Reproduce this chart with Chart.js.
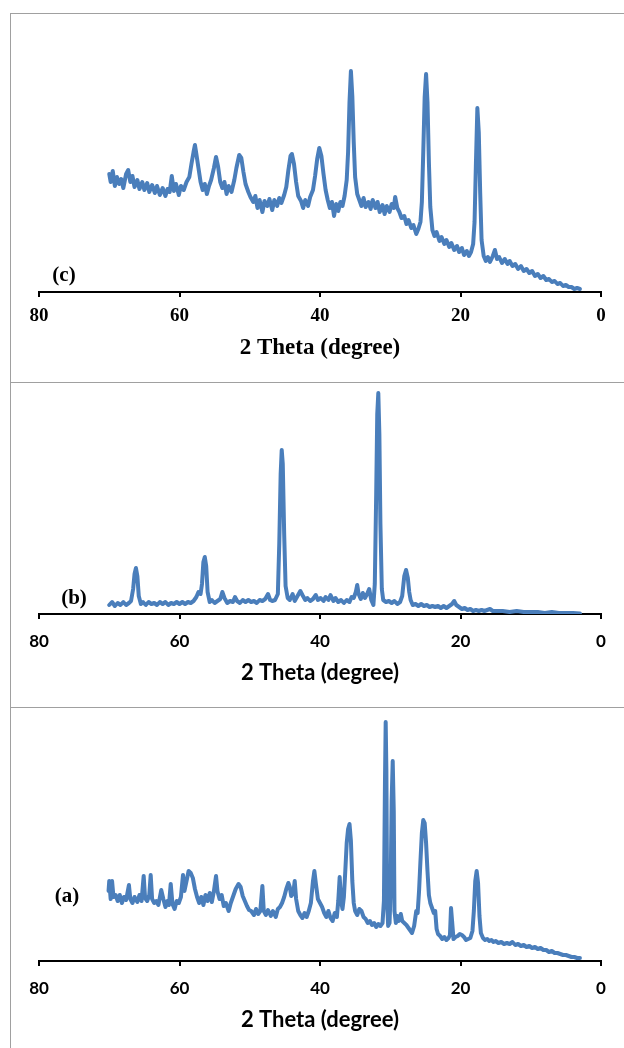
<!DOCTYPE html>
<html>
<head>
<meta charset="utf-8">
<script src="https://cdn.jsdelivr.net/npm/chart.js@4.4.1/dist/chart.umd.min.js"></script>
<style>
  html, body { margin: 0; padding: 0; background: #fff; }
  body { width: 624px; height: 1048px; position: relative; overflow: hidden; }
  .frame { position: absolute; left: 10px; width: 640px; border: 1px solid #a0a0a0; box-sizing: border-box; }
  .plot { position: absolute; left: 0; width: 624px; }
  .tag { position: absolute; transform: translate(-50%, -50%); font: bold 21px "Liberation Serif", serif; color: #000; white-space: nowrap; }
</style>
</head>
<body>
<div class="frame" style="top:13px;height:370px"></div>
<div class="frame" style="top:382px;height:326px"></div>
<div class="frame" style="top:707px;height:360px"></div>

<div class="plot" style="top:0;height:380px"><canvas id="chartC"></canvas></div>
<div class="plot" style="top:382px;height:325px"><canvas id="chartB"></canvas></div>
<div class="plot" style="top:707px;height:341px"><canvas id="chartA"></canvas></div>

<div class="tag" style="left:64px;top:274px">(c)</div>
<div class="tag" style="left:74px;top:597px">(b)</div>
<div class="tag" style="left:67px;top:895px">(a)</div>

<script>
// XRD scans, [2θ (deg), intensity (a.u.)]
const scanC = [
  [70.0,118],[69.8,110],[69.5,121],[69.2,106],[68.9,115],[68.6,108],[68.3,113],[68.0,104],[67.6,118],[67.3,122],
  [67.0,110],[66.7,116],[66.4,105],[66.0,112],[65.7,103],[65.3,110],[65.0,102],[64.6,109],[64.3,100],[63.9,107],
  [63.5,99],[63.2,106],[62.8,97],[62.4,104],[62.0,96],[61.7,103],[61.4,100],[61.1,116],[60.8,101],[60.5,108],
  [60.1,97],[59.8,106],[59.4,102],[59.0,110],[58.6,115],[58.3,128],[58.0,140],[57.8,147],[57.6,138],[57.3,124],
  [57.0,110],[56.7,102],[56.4,108],[56.1,98],[55.8,106],[55.5,112],[55.1,124],[54.8,135],[54.5,125],[54.2,110],
  [53.9,104],[53.6,110],[53.3,98],[53.0,106],[52.6,100],[52.2,112],[51.9,124],[51.5,137],[51.2,134],[50.9,120],
  [50.6,108],[50.2,100],[49.9,95],[49.5,90],[49.2,96],[48.9,84],[48.6,92],[48.2,80],[47.9,91],[47.5,86],
  [47.2,93],[46.8,82],[46.5,92],[46.1,86],[45.8,94],[45.5,89],[45.1,97],[44.8,105],[44.5,122],[44.2,136],
  [44.0,138],[43.7,128],[43.4,110],[43.1,96],[42.7,91],[42.4,84],[42.1,92],[41.7,86],[41.4,95],[41.0,102],
  [40.7,116],[40.4,133],[40.1,144],[39.8,136],[39.5,118],[39.2,102],[38.9,92],[38.6,84],[38.3,90],[38.0,76],
  [37.7,88],[37.4,81],[37.1,90],[36.8,86],[36.5,96],[36.2,112],[36.0,140],[35.8,190],[35.6,221],[35.4,196],
  [35.2,150],[35.0,115],[34.7,98],[34.4,92],[34.1,86],[33.8,94],[33.5,85],[33.1,90],[32.8,83],[32.5,92],
  [32.1,84],[31.8,90],[31.5,80],[31.1,87],[30.8,78],[30.5,86],[30.1,80],[29.8,88],[29.5,84],[29.3,95],
  [29.0,84],[28.7,80],[28.4,74],[28.0,76],[27.7,68],[27.4,72],[27.0,64],[26.7,67],[26.3,58],[26.0,63],
  [25.7,70],[25.5,90],[25.3,140],[25.1,195],[24.9,218],[24.7,190],[24.5,130],[24.3,85],[24.0,62],[23.7,56],
  [23.4,60],[23.0,51],[22.7,55],[22.3,48],[22.0,52],[21.6,45],[21.3,49],[20.9,42],[20.5,46],[20.2,40],
  [19.8,44],[19.5,37],[19.1,41],[18.8,36],[18.5,40],[18.2,48],[18.0,70],[17.8,130],[17.6,184],[17.4,160],
  [17.2,100],[17.0,52],[16.7,36],[16.4,31],[16.1,35],[15.8,30],[15.4,36],[15.1,42],[14.8,33],[14.5,35],
  [14.1,29],[13.7,33],[13.3,28],[13.0,31],[12.6,26],[12.2,28],[11.8,23],[11.4,26],[11.0,21],[10.6,23],
  [10.2,19],[9.8,21],[9.4,16],[9.0,18],[8.6,14],[8.2,16],[7.8,12],[7.4,13],[7.0,10],[6.6,11],
  [6.2,8],[5.8,9],[5.4,6],[5.0,7],[4.6,5],[4.2,5],[3.8,3],[3.4,4],[3.0,3]
];

const scanB = [
  [70.0,9],[69.6,12],[69.2,8],[68.8,11],[68.4,9],[68.0,12],[67.6,9],[67.2,11],[66.9,13],[66.6,25],
  [66.4,40],[66.2,46],[66.0,38],[65.8,18],[65.5,10],[65.2,12],[64.8,9],[64.4,12],[64.0,10],[63.6,11],
  [63.2,9],[62.8,12],[62.4,10],[62.0,12],[61.6,9],[61.2,11],[60.8,10],[60.4,12],[60.0,10],[59.6,12],
  [59.2,10],[58.8,12],[58.4,11],[58.0,13],[57.6,17],[57.3,22],[57.0,20],[56.8,30],[56.6,52],[56.4,57],
  [56.2,48],[56.0,22],[55.7,12],[55.4,14],[55.0,11],[54.6,13],[54.2,15],[53.9,22],[53.6,16],[53.2,11],
  [52.8,13],[52.4,12],[52.1,17],[51.8,13],[51.4,11],[51.0,14],[50.6,12],[50.2,14],[49.8,12],[49.4,13],
  [49.0,11],[48.6,14],[48.2,13],[47.8,15],[47.4,20],[47.1,14],[46.8,13],[46.4,14],[46.0,20],[45.8,70],
  [45.6,140],[45.45,164],[45.3,150],[45.1,80],[44.9,28],[44.6,16],[44.3,14],[43.9,20],[43.6,13],[43.2,18],
  [42.8,23],[42.5,19],[42.1,14],[41.8,16],[41.4,13],[41.0,15],[40.6,19],[40.3,14],[39.9,16],[39.5,13],
  [39.2,17],[38.8,14],[38.5,19],[38.1,13],[37.8,16],[37.4,12],[37.0,14],[36.6,11],[36.2,14],[35.8,12],
  [35.5,17],[35.2,16],[34.9,22],[34.7,29],[34.5,20],[34.2,15],[33.9,21],[33.6,16],[33.3,20],[33.0,25],
  [32.7,14],[32.4,9],[32.2,30],[32.0,120],[31.85,200],[31.7,221],[31.55,180],[31.4,90],[31.2,25],[31.0,14],
  [30.6,12],[30.2,13],[29.8,11],[29.4,13],[29.0,10],[28.6,12],[28.3,18],[28.0,38],[27.75,44],[27.5,36],
  [27.3,22],[27.1,14],[26.8,9],[26.4,10],[26.0,8],[25.6,10],[25.2,8],[24.8,9],[24.4,7],[24.0,8],
  [23.6,7],[23.2,8],[22.8,6],[22.4,8],[22.0,6],[21.6,8],[21.2,10],[20.9,13],[20.6,9],[20.2,7],
  [19.8,5],[19.4,6],[19.0,4],[18.6,5],[18.2,3],[17.8,4],[17.4,3],[17.0,4],[16.6,3],[16.2,4],
  [15.8,5],[15.4,3],[15.0,3],[14.0,3],[13.0,2],[12.0,3],[11.0,2],[10.0,2],[9.0,2],[8.0,1],
  [7.0,2],[6.0,1],[5.0,1],[4.0,1],[3.0,0.5]
];

const scanA = [
  [70.1,70],[70.0,80],[69.8,62],[69.6,80],[69.4,64],[69.1,66],[68.8,60],[68.5,66],[68.2,58],[67.9,64],
  [67.6,61],[67.2,76],[67.0,62],[66.7,58],[66.4,64],[66.0,59],[65.7,66],[65.4,60],[65.1,85],[64.9,63],
  [64.6,60],[64.3,66],[64.1,86],[63.9,62],[63.6,58],[63.3,60],[63.0,56],[62.6,71],[62.3,62],[62.0,54],
  [61.7,60],[61.5,56],[61.25,77],[61.0,57],[60.7,52],[60.4,60],[60.1,58],[59.8,64],[59.5,86],[59.3,70],
  [59.0,80],[58.7,90],[58.4,88],[58.1,83],[57.8,72],[57.5,64],[57.2,58],[56.9,64],[56.6,56],[56.3,66],
  [56.0,60],[55.7,68],[55.4,59],[55.1,70],[54.9,80],[54.8,85],[54.6,70],[54.3,62],[54.0,66],[53.7,55],
  [53.4,58],[53.0,50],[52.7,58],[52.4,64],[52.0,72],[51.6,77],[51.3,74],[51.0,65],[50.7,60],[50.4,55],
  [50.1,51],[49.8,50],[49.4,46],[49.1,52],[48.8,47],[48.5,50],[48.2,75],[48.0,50],[47.7,46],[47.4,51],
  [47.0,45],[46.7,50],[46.3,44],[46.0,52],[45.7,54],[45.4,58],[45.1,64],[44.8,72],[44.5,78],[44.3,74],
  [44.1,65],[43.8,68],[43.6,80],[43.4,62],[43.1,50],[42.8,46],[42.5,43],[42.2,48],[41.9,44],[41.6,50],
  [41.3,58],[41.0,80],[40.8,90],[40.6,78],[40.3,62],[40.0,58],[39.7,54],[39.4,48],[39.1,44],[38.8,50],
  [38.5,43],[38.2,40],[37.9,48],[37.6,44],[37.4,60],[37.2,84],[37.0,60],[36.8,52],[36.6,64],[36.4,90],
  [36.2,118],[36.0,132],[35.8,137],[35.6,120],[35.4,80],[35.2,58],[35.0,50],[34.7,46],[34.4,52],[34.1,50],
  [33.8,44],[33.5,42],[33.2,38],[32.9,40],[32.6,36],[32.3,38],[32.0,34],[31.7,37],[31.4,35],[31.1,38],
  [30.9,60],[30.75,180],[30.65,239],[30.55,190],[30.45,60],[30.3,35],[30.1,38],[29.95,70],[29.8,160],[29.65,200],
  [29.5,150],[29.4,50],[29.2,38],[29.0,45],[28.8,40],[28.5,47],[28.3,40],[28.0,38],[27.7,36],[27.4,33],
  [27.1,30],[26.9,28],[26.6,35],[26.3,50],[26.1,48],[25.9,70],[25.7,100],[25.5,128],[25.3,141],[25.1,138],
  [24.9,118],[24.7,90],[24.5,66],[24.3,58],[24.0,52],[23.8,48],[23.6,50],[23.4,32],[23.2,27],[22.9,25],
  [22.6,22],[22.3,24],[22.0,21],[21.7,23],[21.5,26],[21.35,53],[21.2,40],[21.0,22],[20.7,24],[20.4,25],
  [20.1,27],[19.8,26],[19.5,24],[19.2,21],[18.9,22],[18.6,23],[18.3,30],[18.1,50],[17.9,80],[17.7,90],
  [17.5,78],[17.3,45],[17.1,28],[16.8,23],[16.5,21],[16.2,22],[15.9,20],[15.6,21],[15.3,19],[15.0,20],
  [14.6,18],[14.2,19],[13.8,17],[13.4,18],[13.0,17],[12.6,19],[12.2,16],[11.8,17],[11.4,15],[11.0,16],
  [10.6,14],[10.2,15],[9.8,13],[9.4,14],[9.0,12],[8.6,13],[8.2,11],[7.8,11],[7.4,9],[7.0,10],
  [6.6,8],[6.2,8],[5.8,7],[5.4,6],[5.0,6],[4.6,5],[4.2,4],[3.8,4],[3.4,3],[3.0,3]
];

const THETA_MIN = 0;
const THETA_MAX = 80;
const THETA_STEP = 20;
const AXIS_TITLE = '2 Theta (degree)';
const LINE_COLOR = '#4a7ebb';

const SERIF = 'Liberation Serif';
const SANS = 'Lato';

// x axis block is forced to a fixed height so the axis line lands where wanted
const X_BLOCK = 74;

function makePattern(canvasId, scan, yMax, style) {
  const canvas = document.getElementById(canvasId);
  return new Chart(canvas, {
    type: 'line',
    data: {
      datasets: [{
        data: scan.map(([x, y]) => ({ x, y })),
        borderColor: LINE_COLOR,
        borderWidth: 4,
        borderJoinStyle: 'round',
        borderCapStyle: 'round',
        pointRadius: 0,
        tension: 0,
        fill: false,
      }],
    },
    options: {
      responsive: true,
      maintainAspectRatio: false,
      animation: false,
      events: [],
      layout: { padding: { left: 39, right: 23, top: 5, bottom: style.padBottom } },
      plugins: { legend: { display: false }, tooltip: { enabled: false } },
      scales: {
        x: {
          type: 'linear',
          reverse: true,
          min: THETA_MIN,
          max: THETA_MAX,
          afterFit: (s) => { s.height = X_BLOCK; },
          border: { display: true, color: '#000', width: 2 },
          grid: { drawOnChartArea: false, drawTicks: true, tickLength: 5, color: '#000', lineWidth: 2 },
          ticks: {
            stepSize: THETA_STEP,
            padding: style.tickPad,
            color: '#000',
            maxRotation: 0,
            font: { family: style.family, size: style.tickSize, weight: 'bold' },
          },
          title: {
            display: true,
            text: AXIS_TITLE,
            color: '#000',
            padding: { top: 0, bottom: style.titlePad },
            font: { family: style.family, size: style.titleSize, weight: 'bold' },
          },
        },
        y: { display: false, min: 0, max: yMax },
      },
    },
  });
}

// axis lines end up at y = 292, 614 and 961 on the page
makePattern('chartC', scanC, 287, { family: SERIF, tickSize: 19, titleSize: 23, tickPad: 8, titlePad: 4, padBottom: 380 - 292 - X_BLOCK });
makePattern('chartB', scanB, 227, { family: SANS, tickSize: 17, titleSize: 22, tickPad: 12, titlePad: 2, padBottom: 325 - 232 - X_BLOCK });
makePattern('chartA', scanA, 249, { family: SANS, tickSize: 17, titleSize: 22, tickPad: 12, titlePad: 2, padBottom: 341 - 254 - X_BLOCK });
</script>
</body>
</html>
